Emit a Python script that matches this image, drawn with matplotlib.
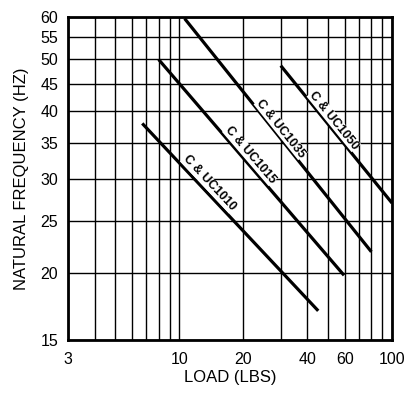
import matplotlib
matplotlib.use("Agg")
import matplotlib.pyplot as plt
import numpy as np
from matplotlib.ticker import FixedLocator, NullFormatter, NullLocator

plt.rcParams['font.family'] = ['Liberation Sans', 'DejaVu Sans']

# series: (start load, start freq), (end load, end freq)
names = ["C & UC1010", "C & UC1015", "C & UC1035", "C & UC1050"]
load_start = [6.7, 8.0, 10.6, 30.0]
freq_start = [38.0, 50.0, 59.6, 48.7]
load_end = [45.0, 59.5, 80.0, 100.0]
freq_end = [17.0, 19.8, 21.9, 27.0]
# label anchor positions (data coords)
label_x = [13.8, 21.5, 30.0, 53.3]
label_y = [29.4, 33.2, 37.2, 38.5]

x_grid = [3, 4, 5, 6, 7, 8, 9, 10, 20, 30, 40, 50, 60, 70, 80, 90, 100]
x_ticks = [3, 10, 20, 40, 60, 100]
y_ticks = [15, 20, 25, 30, 35, 40, 45, 50, 55, 60]

fig = plt.figure(figsize=(4.18, 3.93), dpi=100)
ax = fig.add_axes([0.1627, 0.1349, 0.9378 - 0.1627, 0.9567 - 0.1349])
ax.set_xscale("log")
ax.set_yscale("log")
ax.set_xlim(3, 100)
ax.set_ylim(15, 60)

for gx in x_grid:
    ax.axvline(gx, color="black", lw=1.0, zorder=1)
for gy in y_ticks:
    ax.axhline(gy, color="black", lw=1.0, zorder=1)

ax.xaxis.set_major_locator(FixedLocator(x_ticks))
ax.xaxis.set_minor_locator(NullLocator())
ax.xaxis.set_minor_formatter(NullFormatter())
ax.set_xticklabels([str(t) for t in x_ticks])
ax.yaxis.set_major_locator(FixedLocator(y_ticks))
ax.yaxis.set_minor_locator(NullLocator())
ax.yaxis.set_minor_formatter(NullFormatter())
ax.set_yticklabels([str(t) for t in y_ticks])
ax.tick_params(axis="y", length=0, labelsize=11.5, pad=7)
ax.tick_params(axis="x", length=0, labelsize=11.5, pad=9)

for s in ax.spines.values():
    s.set_linewidth(2)

ax.set_xlabel("LOAD (LBS)", fontsize=12, labelpad=2)
ax.set_ylabel("NATURAL FREQUENCY (HZ)", fontsize=12, labelpad=8)

fig.canvas.draw()
for i, name in enumerate(names):
    ax.plot([load_start[i], load_end[i]], [freq_start[i], freq_end[i]],
            color="black", lw=2.3, solid_capstyle="butt", zorder=3)
    p0 = ax.transData.transform((load_start[i], freq_start[i]))
    p1 = ax.transData.transform((load_end[i], freq_end[i]))
    ang = np.degrees(np.arctan2(p1[1] - p0[1], p1[0] - p0[0]))
    ax.text(label_x[i], label_y[i], name, rotation=ang, rotation_mode="anchor",
            ha="center", va="center", fontsize=9, fontweight="bold",
            zorder=4, bbox=dict(facecolor="white", edgecolor="none", pad=0.2))

fig.savefig("out.png", dpi=100)
